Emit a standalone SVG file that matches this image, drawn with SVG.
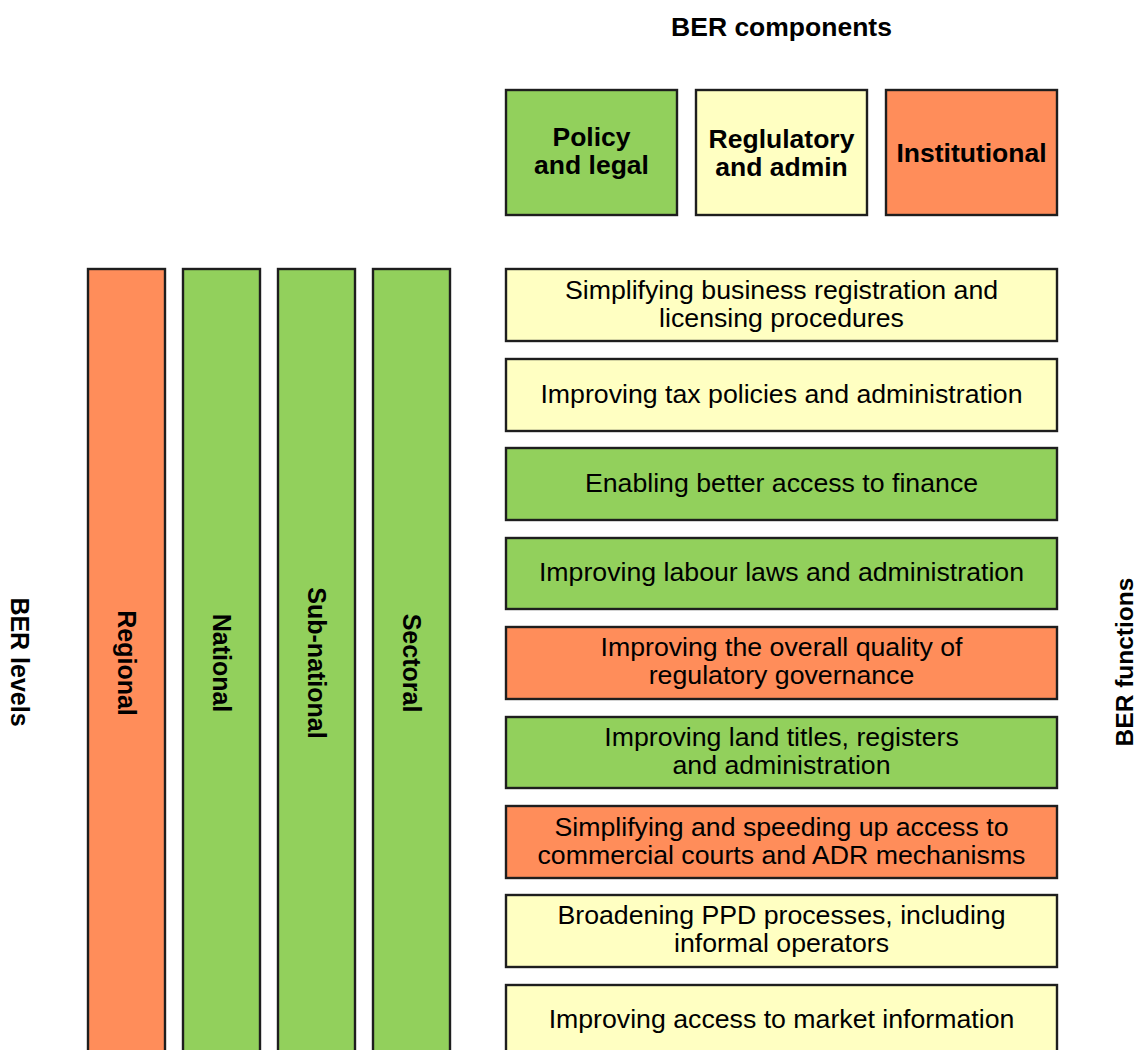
<svg xmlns="http://www.w3.org/2000/svg" width="1137" height="1050" viewBox="0 0 1137 1050">
<style>
.box{stroke:#1e1e1e;stroke-width:2.4}
.g{fill:#92D05C}
.y{fill:#FFFFC2}
.o{fill:#FF8D5A}
text{font-family:"Liberation Sans",Arial,sans-serif;fill:#000}
.b{font-weight:bold;font-size:26.5px;text-anchor:middle}
.v{font-weight:bold;font-size:25px;text-anchor:middle}
.s{font-weight:bold;font-size:24.5px;text-anchor:middle}
.f{font-size:26.7px;text-anchor:middle}
</style>
<rect width="1137" height="1050" fill="#fff"/>
<text class="b" x="781.5" y="36">BER components</text>
<text class="v" transform="translate(20,662) rotate(90)" y="9">BER levels</text>
<text class="s" transform="translate(1124,662) rotate(-90)" y="9">BER functions</text>

<g id="comp-policy"><rect class="box g" x="506" y="90" width="171" height="125"/><text class="b" x="591.5" y="146">Policy</text><text class="b" x="591.5" y="174">and legal</text></g>
<g id="comp-regulatory"><rect class="box y" x="696" y="90" width="171" height="125"/><text class="b" x="781.5" y="148">Reglulatory</text><text class="b" x="781.5" y="176">and admin</text></g>
<g id="comp-institutional"><rect class="box o" x="886" y="90" width="171" height="125"/><text class="b" x="971.5" y="162">Institutional</text></g>

<g id="level-regional"><rect class="box o" x="88" y="269" width="77" height="800"/><text class="v" transform="translate(126.5,663) rotate(90)" y="9">Regional</text></g>
<g id="level-national"><rect class="box g" x="183" y="269" width="77" height="800"/><text class="v" transform="translate(221.5,663) rotate(90)" y="9">National</text></g>
<g id="level-subnational"><rect class="box g" x="278" y="269" width="77" height="800"/><text class="v" transform="translate(316.5,663) rotate(90)" y="9">Sub-national</text></g>
<g id="level-sectoral"><rect class="box g" x="373" y="269" width="77" height="800"/><text class="v" transform="translate(411.5,663) rotate(90)" y="9">Sectoral</text></g>

<g id="fn-1"><rect class="box y" x="506" y="269" width="551" height="72"/><text class="f" x="781.5" y="299">Simplifying business registration and</text><text class="f" x="781.5" y="327">licensing procedures</text></g>
<g id="fn-2"><rect class="box y" x="506" y="359" width="551" height="72"/><text class="f" x="781.5" y="403">Improving tax policies and administration</text></g>
<g id="fn-3"><rect class="box g" x="506" y="448" width="551" height="72"/><text class="f" x="781.5" y="492">Enabling better access to finance</text></g>
<g id="fn-4"><rect class="box g" x="506" y="538" width="551" height="71"/><text class="f" x="781.5" y="581">Improving labour laws and administration</text></g>
<g id="fn-5"><rect class="box o" x="506" y="627" width="551" height="72"/><text class="f" x="781.5" y="656">Improving the overall quality of</text><text class="f" x="781.5" y="684">regulatory governance</text></g>
<g id="fn-6"><rect class="box g" x="506" y="717" width="551" height="71"/><text class="f" x="781.5" y="746">Improving land titles, registers</text><text class="f" x="781.5" y="774">and administration</text></g>
<g id="fn-7"><rect class="box o" x="506" y="806" width="551" height="72"/><text class="f" x="781.5" y="836">Simplifying and speeding up access to</text><text class="f" x="781.5" y="864">commercial courts and ADR mechanisms</text></g>
<g id="fn-8"><rect class="box y" x="506" y="895" width="551" height="72"/><text class="f" x="781.5" y="924">Broadening PPD processes, including</text><text class="f" x="781.5" y="952">informal operators</text></g>
<g id="fn-9"><rect class="box y" x="506" y="985" width="551" height="72"/><text class="f" x="781.5" y="1028">Improving access to market information</text></g>
<g id="connectors"></g>
</svg>
